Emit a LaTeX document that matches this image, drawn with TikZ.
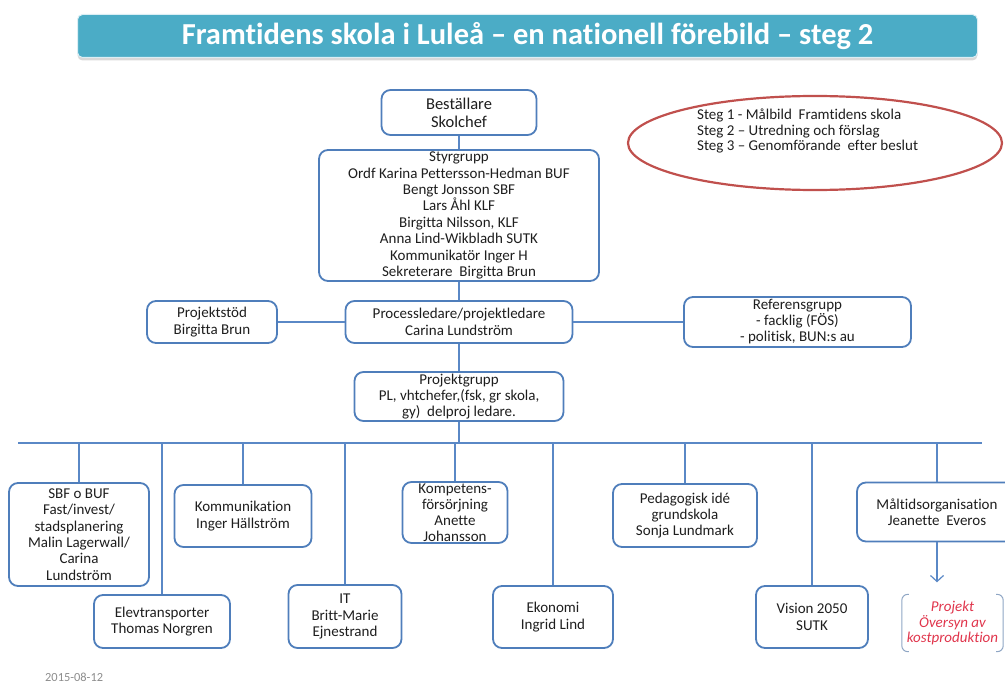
\documentclass[tikz,border=0pt]{standalone}
\usepackage{fontspec}
\setmainfont{Carlito}[Ligatures=NoCommon]
\usetikzlibrary{arrows.meta,shapes.geometric,shadows}
\definecolor{boxblue}{HTML}{4F7EBB}
\definecolor{lineblue}{HTML}{5A88C6}
\definecolor{titleteal}{HTML}{4BACC6}
\definecolor{ellred}{HTML}{C0504D}
\definecolor{txtdark}{HTML}{1E1E1E}
\definecolor{projred}{HTML}{E0354C}
\definecolor{brkgrey}{HTML}{8FA6C4}
\definecolor{dategrey}{HTML}{8C8C8C}
\begin{document}
\begin{tikzpicture}[x=1pt,y=-1pt,
  orgbox/.style={draw=boxblue, line width=1.8pt, rounded corners=9pt, fill=white,
    align=center, inner sep=0pt, text=txtdark, font=\fontsize{15}{16.4}\selectfont},
  conn/.style={draw=lineblue, line width=1.2pt},
  titlebar/.style={fill=titleteal, draw=white!80!titleteal, line width=1pt, rounded corners=5pt,
    text=white, font=\bfseries\fontsize{30.5}{32}\selectfont, inner sep=0pt,
    drop shadow={opacity=0.3, shadow xshift=0pt, shadow yshift=-3pt}},
  brk/.style={draw=brkgrey, line width=1pt, rounded corners=6pt},
  kosttext/.style={align=center, inner sep=0pt, text=projred, font=\itshape\fontsize{15}{14.5}\selectfont}
]
\useasboundingbox (0,0) rectangle (1005,685);

% title
\node[titlebar, minimum width=900, minimum height=43] (title) at (527.5,36)
  {Framtidens skola i Luleå – en nationell förebild – steg 2};

% top part
\node[orgbox, minimum width=155, minimum height=45, font=\fontsize{16.5}{18}\selectfont] (best) at (459,112.5) {Beställare\\Skolchef};
\node[orgbox, minimum width=280, minimum height=131] (styr) at (459,215.5)
  {Styrgrupp\\Ordf Karina Pettersson-Hedman BUF\\Bengt Jonsson SBF\\Lars Åhl KLF\\Birgitta Nilsson, KLF\\Anna Lind-Wikbladh SUTK\\Kommunikatör Inger H\\Sekreterare\ \ Birgitta Brun};

\node[ellipse, draw=ellred, line width=2.2pt, minimum width=374, minimum height=94, inner sep=0pt] (steg) at (815,143) {};
\node[anchor=north west, align=left, inner sep=0pt, text=txtdark, font=\fontsize{15}{15.5}\selectfont] (stegtxt) at (697,109)
  {Steg 1 - Målbild\ \ Framtidens skola\\Steg 2 – Utredning och förslag\\Steg 3 – Genomförande\ \ efter beslut};

\node[orgbox, minimum width=130, minimum height=42] (pstod) at (212,322) {Projektstöd\\Birgitta Brun};
\node[orgbox, minimum width=227, minimum height=42] (proc) at (459,322) {Processledare/projektledare\\Carina Lundström};
\node[orgbox, minimum width=227, minimum height=50, font=\fontsize{15}{16}\selectfont] (ref) at (797.5,322) {Referensgrupp\\- facklig (FÖS)\\- politisk, BUN:s au};
\node[orgbox, minimum width=209, minimum height=49, font=\fontsize{15}{16}\selectfont] (pgrp) at (459,396.5) {Projektgrupp\\PL, vhtchefer,(fsk, gr skola,\\gy)\ \ delproj ledare.};

% bus
\coordinate (busL) at (18,443);
\coordinate (busR) at (982,443);

% lower boxes
\node[orgbox, minimum width=140, minimum height=103] (sbf) at (79,534.5) {SBF o BUF\\Fast/invest/\\stadsplanering\\Malin Lagerwall/\\Carina\\Lundström};
\node[orgbox, minimum width=137, minimum height=62, font=\fontsize{15}{17}\selectfont] (komm) at (243,516) {Kommunikation\\Inger Hällström};
\node[orgbox, minimum width=105, minimum height=61, font=\fontsize{15}{16}\selectfont] (komp) at (455,512.5) {Kompetens-\\försörjning\\Anette\\Johansson};
\node[orgbox, minimum width=144, minimum height=63] (ped) at (685,515.5) {Pedagogisk idé\\grundskola\\Sonja Lundmark};
\node[orgbox, minimum width=160, minimum height=59] (malt) at (937,512) {Måltidsorganisation\\Jeanette\ \ Everos};
\node[orgbox, minimum width=136, minimum height=53] (elev) at (162,621.5) {Elevtransporter\\Thomas Norgren};
\node[orgbox, minimum width=113, minimum height=63] (it) at (345,616.5) {IT\\Britt-Marie\\Ejnestrand};
\node[orgbox, minimum width=120, minimum height=62] (eko) at (553,617) {Ekonomi\\Ingrid Lind};
\node[orgbox, minimum width=112, minimum height=62] (vis) at (812,617) {Vision 2050\\SUTK};
\node[kosttext, minimum width=101, minimum height=57] (kost) at (952.5,623) {Projekt\\Översyn av\\kostproduktion};
\draw[brk] ([xshift=7pt]kost.north west) -- (kost.north west) -- (kost.south west) -- ([xshift=7pt]kost.south west);
\draw[brk] ([xshift=-7pt]kost.north east) -- (kost.north east) -- (kost.south east) -- ([xshift=-7pt]kost.south east);

\node[anchor=west, inner sep=0pt, text=dategrey, font=\fontsize{12.4}{14}\selectfont] (date) at (45,677.5) {2015-08-12};

% connectors
\draw[conn] (best.south) -- (styr.north);
\draw[conn] (styr.south) -- (proc.north);
\draw[conn] (pstod.east) -- (proc.west);
\draw[conn] (proc.east) -- (ref.west);
\draw[conn] (proc.south) -- (pgrp.north);
\draw[conn] (pgrp.south) -- (pgrp.south |- busL);
\draw[conn] (busL) -- (busR);
\foreach \n in {sbf,komm,komp,ped,malt,elev,it,eko,vis}
  \draw[conn] (\n.north |- busL) -- (\n.north);
\draw[conn, shorten >=12pt, -{Straight Barb[length=6pt,width=13pt,line width=1.2pt]}] (malt.south) -- (malt.south |- kost.north);
\end{tikzpicture}
\end{document}
